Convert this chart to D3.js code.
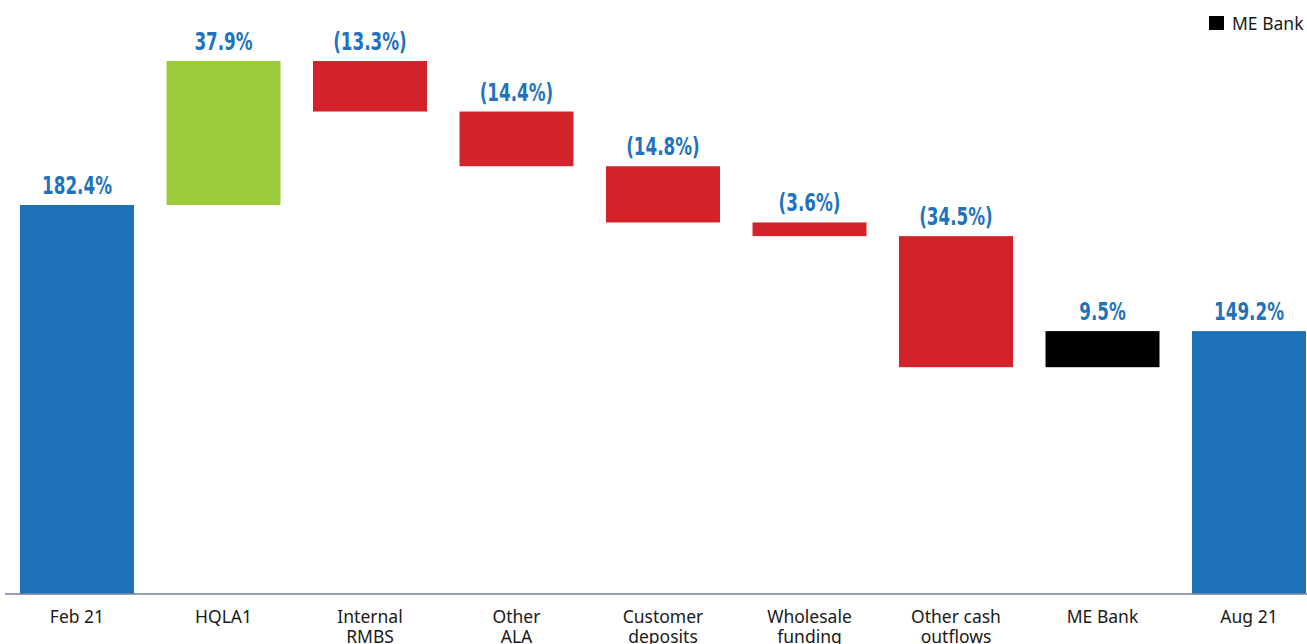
<!DOCTYPE html>

<head>
  <meta charset="UTF-8">
  <script src="https://d3js.org/d3.v7.min.js"></script>
  <style>
    body { margin: 0; background: #fff; }
    .value { font-family: "DejaVu Sans", sans-serif; font-weight: bold; }
    .cat { font-family: "Noto Sans", "Open Sans", sans-serif; }
  </style>
</head>

<body>
  <script>
    // chart data
    var categories = ["Feb 21", "HQLA1", "Internal\nRMBS", "Other\nALA", "Customer\ndeposits",
      "Wholesale\nfunding", "Other cash\noutflows", "ME Bank", "Aug 21"];
    var startValue = 182.4;
    var changes = [37.9, -13.3, -14.4, -14.8, -3.6, -34.5, 9.5];
    var endValue = 149.2;
    var kinds = ["total", "up", "down", "down", "down", "down", "down", "mebank", "total"];
    var legendLabels = ["ME Bank"];

    var colors = {
      total: "#1d71b8",
      up: "#9ecb3b",
      down: "#d2232a",
      mebank: "#000000"
    };

    var width = 1307;
    var height = 644;
    var svg = d3.select("body")
      .append("svg")
      .attr("width", width)
      .attr("height", height);

    // build the floating bars from the running total
    var bars = [];
    var running = startValue;
    bars.push({ cat: categories[0], from: 80, to: startValue, label: startValue.toFixed(1) + "%", kind: kinds[0] });
    for (var i = 0; i < changes.length; i++) {
      var next = running + changes[i];
      var txt = changes[i] < 0 ? "(" + Math.abs(changes[i]).toFixed(1) + "%)" : changes[i].toFixed(1) + "%";
      bars.push({ cat: categories[i + 1], from: running, to: next, label: txt, kind: kinds[i + 1] });
      running = next;
    }
    bars.push({ cat: categories[8], from: 80, to: endValue, label: endValue.toFixed(1) + "%", kind: kinds[8] });

    // scales
    var x = d3.scaleBand()
      .domain(categories)
      .range([3.75, 1322.25])
      .paddingInner(0.222)
      .paddingOuter(0.111);

    var y = d3.scaleLinear()
      .domain([80, 220.3])
      .range([594, 61]);

    svg.selectAll("rect.bar")
      .data(bars)
      .enter()
      .append("rect")
      .attr("class", "bar")
      .attr("x", function(d) { return x(d.cat); })
      .attr("width", x.bandwidth())
      .attr("y", function(d) { return y(Math.max(d.from, d.to)); })
      .attr("height", function(d) { return Math.abs(y(d.from) - y(d.to)); })
      .attr("fill", function(d) { return colors[d.kind]; });

    // value labels above each bar (squeezed to look condensed)
    svg.selectAll("text.value")
      .data(bars)
      .enter()
      .append("text")
      .attr("class", "value")
      .attr("transform", function(d) {
        var cx = x(d.cat) + x.bandwidth() / 2;
        var cy = y(Math.max(d.from, d.to)) - 11;
        return "translate(" + cx + "," + cy + ") scale(0.7,1)";
      })
      .attr("text-anchor", "middle")
      .attr("font-size", 24)
      .attr("fill", "#1f73bd")
      .text(function(d) { return d.label; });

    // x axis line
    var xAxis = d3.axisBottom(x).tickSize(0).tickFormat("");
    var axisG = svg.append("g")
      .attr("transform", "translate(0,594)")
      .call(xAxis);
    axisG.select(".domain")
      .attr("d", "M5,0H" + width)
      .attr("stroke", "#75829c")
      .attr("stroke-width", 1.6);

    // category labels, split on line breaks
    var catText = svg.selectAll("text.cat")
      .data(categories)
      .enter()
      .append("text")
      .attr("class", "cat")
      .attr("x", function(d) { return x(d) + x.bandwidth() / 2; })
      .attr("y", 623)
      .attr("text-anchor", "middle")
      .attr("font-size", 17.5)
      .attr("fill", "#1a1a1a");

    catText.each(function(d) {
      var lines = d.split("\n");
      var t = d3.select(this);
      lines.forEach(function(line, j) {
        t.append("tspan")
          .attr("x", x(d) + x.bandwidth() / 2)
          .attr("dy", j === 0 ? 0 : 20)
          .text(line);
      });
    });

    // legend
    var legend = svg.append("g").attr("class", "legend")
      .attr("transform", "translate(1209,16)");
    legend.append("rect")
      .attr("width", 15)
      .attr("height", 14)
      .attr("fill", colors.mebank);
    legend.append("text")
      .attr("class", "cat")
      .attr("x", 23)
      .attr("y", 13.5)
      .attr("font-size", 17.5)
      .attr("fill", "#1a1a1a")
      .text(legendLabels[0]);
  </script>
</body>

</html>
